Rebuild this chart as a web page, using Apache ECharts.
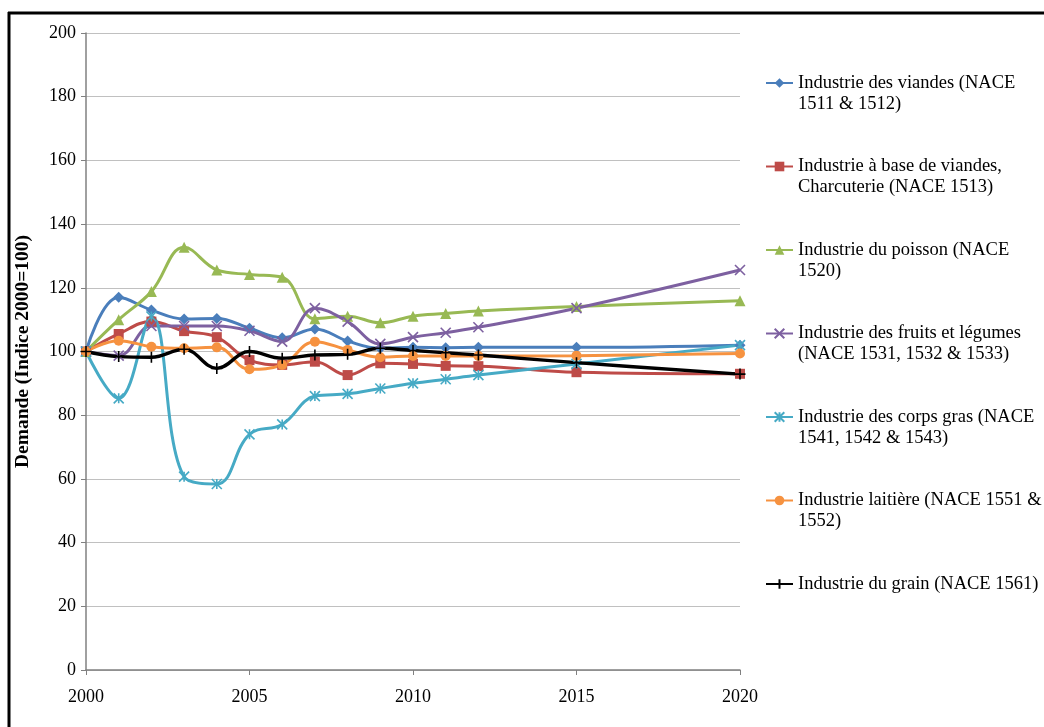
<!DOCTYPE html>
<html>
<head>
<meta charset="utf-8">
<script src="https://cdn.jsdelivr.net/npm/echarts@6/dist/echarts.min.js"></script>
<style>
  html, body { margin: 0; padding: 0; background: #fff; }
  #chart { width: 1044px; height: 727px; }
</style>
</head>
<body>
<div id="chart"></div>
<script>
var years = [2000, 2001, 2002, 2003, 2004, 2005, 2006, 2007, 2008, 2009, 2010, 2011, 2012, 2015, 2020];

var viandes = [100, 117, 113, 110.2, 110.4, 107.3, 104.3, 107.1, 103.3, 101, 101.3, 101.2, 101.3, 101.3, 102];
var charcuterie = [100, 105.5, 109.4, 106.4, 104.5, 97.3, 95.8, 96.8, 92.6, 96.3, 96.1, 95.5, 95.4, 93.5, 93];
var poisson = [100, 110, 118.8, 132.7, 125.6, 124.2, 123.3, 110.3, 111.1, 109, 111.1, 111.9, 112.7, 114.1, 115.9];
var fruits = [100, 98.7, 108, 108, 108, 106.5, 103.1, 113.6, 109.4, 102.4, 104.5, 105.9, 107.6, 113.6, 125.6];
var corpsGras = [100, 85.3, 111, 60.7, 58.4, 74, 77.1, 86, 86.7, 88.4, 90, 91.3, 92.6, 96.1, 102];
var laitiere = [100, 103.4, 101.5, 101, 101.3, 94.4, 95.8, 103.1, 100.5, 98.2, 98.6, 98.6, 98.6, 98.7, 99.4];
var grain = [100, 98.4, 98.2, 100.7, 94.7, 100, 97.9, 98.9, 99.1, 101, 100.3, 99.6, 98.9, 96.5, 92.9];

var seriesNames = [
  "Industrie des viandes (NACE 1511 & 1512)",
  "Industrie à base de viandes, Charcuterie (NACE 1513)",
  "Industrie du poisson (NACE 1520)",
  "Industrie des fruits et légumes (NACE 1531, 1532 & 1533)",
  "Industrie des corps gras (NACE 1541, 1542 & 1543)",
  "Industrie laitière (NACE 1551 & 1552)",
  "Industrie du grain (NACE 1561)"
];
// legend text as it wraps in the picture (blank line on top keeps line 1 level with the icon)
var legendLabels = [
  " \nIndustrie des viandes (NACE\n1511 & 1512)",
  " \nIndustrie à base de viandes,\nCharcuterie (NACE 1513)",
  " \nIndustrie du poisson (NACE\n1520)",
  " \nIndustrie des fruits et légumes\n(NACE 1531, 1532 & 1533)",
  " \nIndustrie des corps gras (NACE\n1541, 1542 & 1543)",
  " \nIndustrie laitière (NACE 1551 &\n1552)",
  " \nIndustrie du grain (NACE 1561)\n "
];

var yTicks = { min: 0, max: 200, interval: 20 };
var xTicks = { min: 2000, max: 2020, interval: 5 };

var colors = ["#4A7EBB", "#BE4B48", "#98B954", "#7D60A0", "#46AAC5", "#F69240", "#000000"];
var symbols = [
  "diamond",
  "rect",
  "triangle",
  "path://M0,0L10,10M10,0L0,10",
  "path://M0,0L10,10M10,0L0,10M5,0L5,10",
  "circle",
  "path://M5,0L5,10M0,5L10,5"
];
var symbolSizes = [11, 10, 11, 10, 10, 10, 11];
var allValues = [viandes, charcuterie, poisson, fruits, corpsGras, laitiere, grain];

var serif = "'Liberation Serif', 'Times New Roman', serif";

function pairs(vals) {
  return years.map(function (y, i) { return [y, vals[i]]; });
}

var series = allValues.map(function (vals, i) {
  var stroked = symbols[i].indexOf("path://") === 0;
  return {
    name: seriesNames[i],
    type: "line",
    data: pairs(vals),
    smooth: 0.4,
    symbol: symbols[i],
    symbolSize: symbolSizes[i],
    showAllSymbol: true,
    lineStyle: { width: i === 6 ? 3.4 : 3, color: colors[i] },
    itemStyle: stroked
      ? { color: colors[i], borderColor: colors[i], borderWidth: 1.6 }
      : { color: colors[i] }
  };
});

var chart = echarts.init(document.getElementById("chart"));
var option = {
  animation: false,
  color: colors,
  grid: { left: 86, right: 304, top: 33, bottom: 57 },
  xAxis: {
    type: "value",
    min: xTicks.min,
    max: xTicks.max,
    interval: xTicks.interval,
    axisLine: { lineStyle: { color: "#808080", width: 1.5 } },
    axisTick: { show: true, inside: false, length: 5, lineStyle: { color: "#808080" } },
    splitLine: { show: false },
    axisLabel: {
      color: "#000", fontFamily: serif, fontSize: 18, margin: 18,
      formatter: function (v) { return String(v); }
    }
  },
  yAxis: {
    type: "value",
    min: yTicks.min,
    max: yTicks.max,
    interval: yTicks.interval,
    name: "Demande (Indice 2000=100)",
    nameLocation: "middle",
    nameRotate: 90,
    nameGap: 53,
    nameTextStyle: { color: "#000", fontFamily: serif, fontSize: 19.5, fontWeight: "bold" },
    axisLine: { show: true, lineStyle: { color: "#808080", width: 1.5 } },
    axisTick: { show: true, inside: false, length: 5, lineStyle: { color: "#808080" } },
    splitLine: { show: true, lineStyle: { color: "#C0C0C0", width: 1 } },
    axisLabel: { color: "#000", fontFamily: serif, fontSize: 18, margin: 10 }
  },
  legend: {
    orient: "vertical",
    left: 765,
    top: 51.5,
    padding: 0,
    itemGap: 20.5,
    itemWidth: 27,
    itemHeight: 12,
    data: seriesNames,
    formatter: function (name) {
      return legendLabels[seriesNames.indexOf(name)];
    },
    textStyle: {
      color: "#000",
      fontFamily: serif,
      fontSize: 18.5,
      lineHeight: 21
    }
  },
  graphic: [
    { type: "line", shape: { x1: 8, y1: 13, x2: 1044, y2: 13 }, style: { stroke: "#000", lineWidth: 3 } },
    { type: "line", shape: { x1: 9, y1: 12, x2: 9, y2: 727 }, style: { stroke: "#000", lineWidth: 3 } }
  ],
  series: series
};
chart.setOption(option);
</script>
</body>
</html>
